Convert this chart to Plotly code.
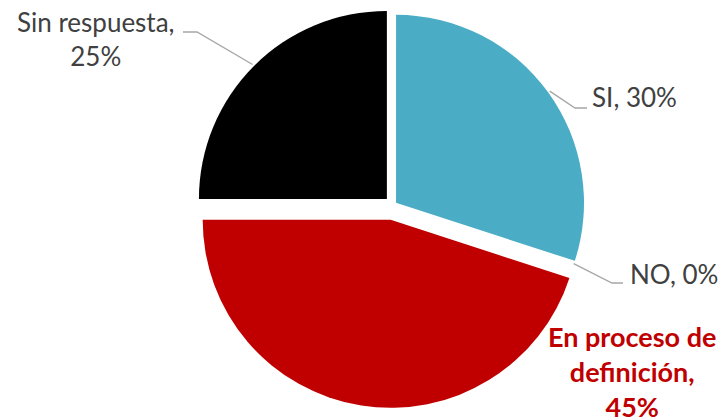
import math
import plotly.graph_objects as go

# Survey answers and their shares (%)
categories = ["SI", "NO", "En proceso de definición", "Sin respuesta"]
values = [30, 0, 45, 25]
colors = ["#4BACC6", "#7F7F7F", "#C00000", "#000000"]
pulls = [0.02, 0.0, 0.08, 0.046]

W, H = 719, 417
FONT = "Lato"

# Pie box in pixels, expressed as a paper-coordinate domain
box_x0, box_x1 = 190, 596
box_y0, box_y1 = 2, 408
dom_x = [box_x0 / W, box_x1 / W]
dom_y = [1 - box_y1 / H, 1 - box_y0 / H]

fig = go.Figure(
    go.Pie(
        labels=categories,
        values=values,
        marker=dict(colors=colors, line=dict(width=0)),
        pull=pulls,
        sort=False,
        direction="clockwise",
        rotation=0,
        textinfo="none",
        hoverinfo="label+percent",
        showlegend=False,
        domain=dict(x=dom_x, y=dom_y),
    )
)

# Pie geometry (same rule plotly uses to fit pulled slices in the domain)
cx = (box_x0 + box_x1) / 2
cy = (box_y0 + box_y1) / 2
r = min(box_x1 - box_x0, box_y1 - box_y0) / (2 + 2 * max(pulls))


def px_to_paper(x, y):
    return x / W, 1 - y / H


# Leader lines: from the slice's outer mid-arc to an elbow, then horizontal
total = sum(values)
leader = {
    # index: (elbow point, end point) in pixels
    0: ((575, 108), (587, 108)),
    1: ((612, 283), (623, 283)),
    3: ((197, 32), (183, 32)),
}
start = 0.0
for i, v in enumerate(values):
    frac = v / total
    mid = (start + frac / 2) * 2 * math.pi
    start += frac
    if i not in leader:
        continue
    dx, dy = math.sin(mid), -math.cos(mid)
    scx = cx + pulls[i] * r * dx
    scy = cy + pulls[i] * r * dy
    ax_, ay_ = scx + (r + 2) * dx, scy + (r + 2) * dy
    (ex, ey), (fx, fy) = leader[i]
    p0 = px_to_paper(ax_, ay_)
    p1 = px_to_paper(ex, ey)
    p2 = px_to_paper(fx, fy)
    fig.add_shape(
        type="path",
        xref="paper",
        yref="paper",
        path=f"M {p0[0]},{p0[1]} L {p1[0]},{p1[1]} L {p2[0]},{p2[1]}",
        line=dict(color="#A6A6A6", width=1.3),
    )

label_color = "#404040"
fig.add_annotation(
    x=590 / W, y=1 - 97 / H, xref="paper", yref="paper",
    text=f"{categories[0]}, {values[0]}%", showarrow=False,
    xanchor="left", yanchor="middle",
    font=dict(family=FONT, size=26, color=label_color),
)
fig.add_annotation(
    x=628 / W, y=1 - 274 / H, xref="paper", yref="paper",
    text=f"{categories[1]}, {values[1]}%", showarrow=False,
    xanchor="left", yanchor="middle",
    font=dict(family=FONT, size=26, color=label_color),
)
fig.add_annotation(
    x=96 / W, y=1 - 39 / H, xref="paper", yref="paper",
    text=f"{categories[3]},<br>{values[3]}%", showarrow=False,
    xanchor="center", yanchor="middle", align="center",
    font=dict(family=FONT, size=26, color=label_color),
)
fig.add_annotation(
    x=632 / W, y=1 - 371 / H, xref="paper", yref="paper",
    text="<b>En proceso de<br>definición,<br>" + f"{values[2]}%</b>",
    showarrow=False,
    xanchor="center", yanchor="middle", align="center",
    font=dict(family=FONT, size=27, color="#C00000"),
)

fig.update_layout(
    width=W,
    height=H,
    margin=dict(l=0, r=0, t=0, b=0),
    paper_bgcolor="white",
    plot_bgcolor="white",
)

fig.write_html("out.html")
